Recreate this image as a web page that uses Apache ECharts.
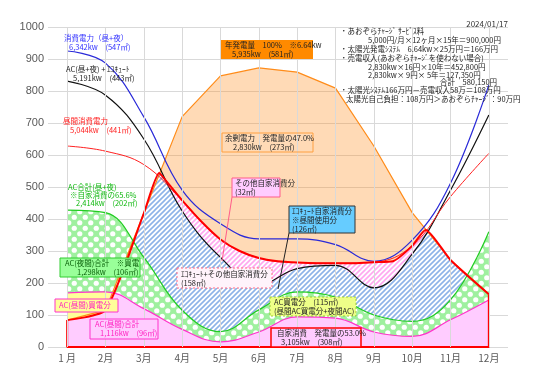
<!DOCTYPE html>
<html><head><meta charset="utf-8">
<script src="https://cdn.jsdelivr.net/npm/echarts@6/dist/echarts.min.js"></script>
<style>html,body{margin:0;padding:0;background:#fff}#c{width:537px;height:381px}</style>
</head><body><div id="c"></div>
<script>
// ---- data ----
const monthLabels = ['1 月','2月','3月','4月','5月','6月','7月','8月','9月','10月','11月','12月'];
const yTicks = [0,100,200,300,400,500,600,700,800,900,1000];
const generation = [84,115,418,720,847,872,859,809,628,420,272,165];      // 年発電量 (orange)
const totalUse   = [925,887,719,490,385,338,338,320,268,334,512,819];     // 消費電力(昼+夜) blue
const acPlusEco  = [831,787,650,425,280,195,245,255,185,290,490,725];     // AC(昼+夜)+ｴｺｷｭｰﾄ black
const daytimeUse = [628,612,570,458,336,278,264,262,265,316,470,605];     // 昼間消費電力 thin red
const acTotal    = [428,420,280,115,48,116,172,156,100,80,147,360];       // AC合計(昼+夜) green
const acDaytime  = [169,172,120,55,16,47,94,90,47,33,85,147];            // AC(昼間)合計 magenta
// boundary of self consumption (thick red)
const selfUse = [[0,84],[1,115],[2,418],[2.4,544],[2.5,531],[3,458],[3.5,392],[4,336],[4.5,300],[5,278],[5.5,268],[6,264],[6.5,262],[7,262],[7.5,262],[8,265],[8.5,268],[9,316],[9.35,366],[10,272],[11,165]];
// upper edge of blue hatched part (ｴｺｷｭｰﾄ+その他)
const ecoTop = [[0,84],[1,115],[2,418],[2.4,548],[2.5,535],[3,425],[3.5,345],[4,280],[4.5,228],[5,195],[5.5,212],[6,245],[6.5,255],[7,255],[7.5,222],[8,185],[8.5,215],[9,290],[9.4,358],[10,272],[11,165]];
// upper edge of pink solid part (自家消費 AC昼間)
const acSelfTop = [[0,84],[1,115],[1.19,171],[2,120],[3,55],[4,16],[5,47],[6,94],[7,90],[8,47],[9,33],[10,85],[11,147]];
const redFrame = [[0,84],[0,0],[11,0],[11,165]];

const M = a => a.map((v,i)=>[i,v]);

function hatch(fg,bg,size,lw){
  const c=document.createElement('canvas');c.width=c.height=size;
  const g=c.getContext('2d');g.fillStyle=bg;g.fillRect(0,0,size,size);
  g.strokeStyle=fg;g.lineWidth=lw;g.beginPath();
  g.moveTo(-1,size+1);g.lineTo(size+1,-1);
  g.moveTo(-2,2);g.lineTo(2,-2);
  g.moveTo(size-2,size+2);g.lineTo(size+2,size-2);
  g.stroke();return c;
}
function dots(bg,size,r){
  const c=document.createElement('canvas');c.width=c.height=size;
  const g=c.getContext('2d');g.fillStyle=bg;g.fillRect(0,0,size,size);
  g.fillStyle='#fff';
  [[size/4,size/4],[size*3/4,size*3/4]].forEach(p=>{g.beginPath();g.arc(p[0],p[1],r,0,Math.PI*2);g.fill();});
  return c;
}
const blueHatch = {image:hatch('#8db3e8','#ffffff',5,1.6),repeat:'repeat'};
const pinkHatch = {image:hatch('#ffa8f0','#ffffff',5,1.6),repeat:'repeat'};
const greenDots = {image:dots('#9ff09f',11,2.6),repeat:'repeat'};

const FF = '"Noto Sans CJK JP", sans-serif';
const gr = [];
function R(x,y,w,h,fill,stroke,lw,dash){gr.push({type:'rect',z:100,shape:{x,y,width:w,height:h},style:{fill:fill||'none',stroke:stroke||'none',lineWidth:lw||1,lineDash:dash||null}});}
function T(x,y,s,col,size,align){gr.push({type:'text',z:101,x,y,style:{text:s,fill:col||'#222',font:(size||7.5)+'px '+FF,align:align||'left',verticalAlign:'middle'}});}
function L(x1,y1,x2,y2,col){gr.push({type:'line',z:100,shape:{x1,y1,x2,y2},style:{stroke:col,lineWidth:1}});}

// date and notes
T(508,24,'2024/01/17','#333',8,'right');
T(340,31,'・あおぞらﾁｬｰｼﾞ ｻｰﾋﾞｽ料');
T(368,40,'5,000円/月×12ヶ月×15年＝900,000円');
T(340,49,'・太陽光発電ｼｽﾃﾑ　6.64kw×25万円＝166万円');
T(340,58,'・売電収入(あおぞらﾁｬｰｼﾞを使わない場合)');
T(368,67,'2,830kw×16円×10年＝452,800円');
T(368,75,'2,830kw× 9円× 5年＝127,350円');
T(440,82,'合計　580,150円');
T(340,90,'・太陽光ｼｽﾃﾑ166万円－売電収入58万＝108万円');
T(346,99,'太陽光自己負担：108万円＞あおぞらﾁｬｰｼﾞ：90万円');
// left labels
T(64,38,'消費電力（昼+夜）','#3030ff');
T(69,47,'6,342kw　(547㎡)','#3030ff');
T(66,69,'AC(昼+夜) + ｴｺｷｭｰﾄ','#222');
T(73,78,'5,191kw　(443㎡)','#222');
T(63,121,'昼間消費電力','#ff2020');
T(70,130,'5,044kw　(441㎡)','#ff2020');
T(68,187,'AC合計(昼+夜)','#10b810');
T(70,195,'※自家消費の65.6%','#10b810');
T(76,203,'2,414kw　(202㎡)','#10b810');
// boxes
R(221,40,92,19,'#ff8a00');
T(225,45,'年発電量　100%　※6.64kw');
T(232,54,'5,935kw　(581㎡)');
R(222,133,91,19,null,'#ffa040');
T(225,138,'余剰電力　発電量の47.0%');
T(233,147,'2,830kw　(273㎡)');
L(232,197,222,261,'#ff5c8a');
R(232,178,48,19,'#ffccff','#ff5c8a');
T(235,183,'その他自家消費分');
T(235,192,'(32㎡)');
L(289,233,278,289,'#222');
R(289,206,66,27,'#66ccff','#333');
T(292,211,'ｴｺｷｭｰﾄ自家消費分');
T(292,220,'※昼間使用分');
T(292,229,'(126㎡)');
R(177,268,95,20,'#fff3fb','#ff6680',1,[2,2]);
T(181,274,'ｴｺｷｭｰﾄ+その他自家消費分');
T(181,283,'(158㎡)');
R(270,297,86,19,'#eeff88','#99cc33',1,[2,2]);
T(274,302,'AC買電分　(115㎡)');
T(274,311,'(昼間AC買電分+夜間AC)');
R(271,328,90,19,'#ffccff','#ff0000',1.5);
T(277,333,'自家消費　発電量の53.0%');
T(281,342,'3,105kw　(308㎡)');
R(90,319,68,20,'#ffccff','#ff33cc');
T(95,324,'AC(昼間)合計','#ff20c0');
T(100,333,'1,116kw　(96㎡)','#ff20c0');
R(55,299,63,13,'#ffff99','#ff33cc');
T(59,305.5,'AC(昼間)買電分','#ff20c0');
R(60,258,80,19,'#99ff99','#33cc33');
T(65,263.5,'AC(夜間)合計　※買電','#0a600a');
T(77,272.5,'1,298kw　(106㎡)','#0a600a');

const line = (name,data,color,w,smooth,extra)=>Object.assign({name,type:'line',data,smooth,symbol:'none',lineStyle:{color,width:w},itemStyle:{color},silent:true},extra||{});
const area = (name,data,fill,smooth)=>({name,type:'line',data,smooth,symbol:'none',lineStyle:{width:0},areaStyle:{color:fill,opacity:1},silent:true});

const chart = echarts.init(document.getElementById('c'),null,{renderer:'canvas'});
chart.setOption({
  animation:false,
  backgroundColor:'#fff',
  textStyle:{fontFamily:FF},
  grid:{left:48,right:29,top:27,bottom:34,containLabel:false},
  xAxis:{type:'value',min:-0.5,max:11.5,interval:0.5,
    axisLine:{show:false},axisTick:{show:false},splitLine:{show:false},
    axisLabel:{margin:6,color:'#595959',fontSize:10,fontFamily:'"Noto Sans CJK JP"',
      formatter:v=>Number.isInteger(v)&&v>=0&&v<=11?monthLabels[v]:''}},
  yAxis:{type:'value',min:yTicks[0],max:yTicks[yTicks.length-1],interval:100,
    axisLine:{show:false},axisTick:{show:false},
    axisLabel:{margin:4,color:'#595959',fontSize:11,fontFamily:'"Liberation Sans"',formatter:v=>String(v)},
    splitLine:{lineStyle:{color:'#d9d9d9',width:1}}},
  graphic:gr,
  series:[
    {type:'line',data:[],z:1,silent:true,markLine:{silent:true,symbol:'none',label:{show:false},
      lineStyle:{color:'#d9d9d9',type:'solid',width:1},data:monthLabels.map((m,i)=>({xAxis:i}))}},
    {name:'gen',type:'line',data:M(generation),smooth:false,symbol:'none',silent:true,
      lineStyle:{color:'#ff8c1a',width:1.2},areaStyle:{color:'rgba(255,140,26,0.45)'}},
    area('pinkHatch',selfUse,pinkHatch,0.2),
    area('blueHatch',ecoTop,blueHatch,0.2),
    area('greenDots',M(acTotal),greenDots,0.4),
    area('yellow',M(acDaytime),'#ffff99',0.4),
    area('pinkSolid',acSelfTop,'#ffccff',0.4),
    line('acDay',M(acDaytime),'#ff33cc',1.2,0.4),
    line('acTotal',M(acTotal),'#22cc22',1.2,0.4),
    line('acEco',M(acPlusEco),'#111',1.2,0.4),
    line('total',M(totalUse),'#2a2ad8',1.2,0.4),
    line('day',M(daytimeUse),'#ff2020',1,0.4),
    line('self',selfUse,'#ff0000',2,0.2),
    line('frame',redFrame,'#ff0000',2,false)
  ]
});
</script></body></html>
